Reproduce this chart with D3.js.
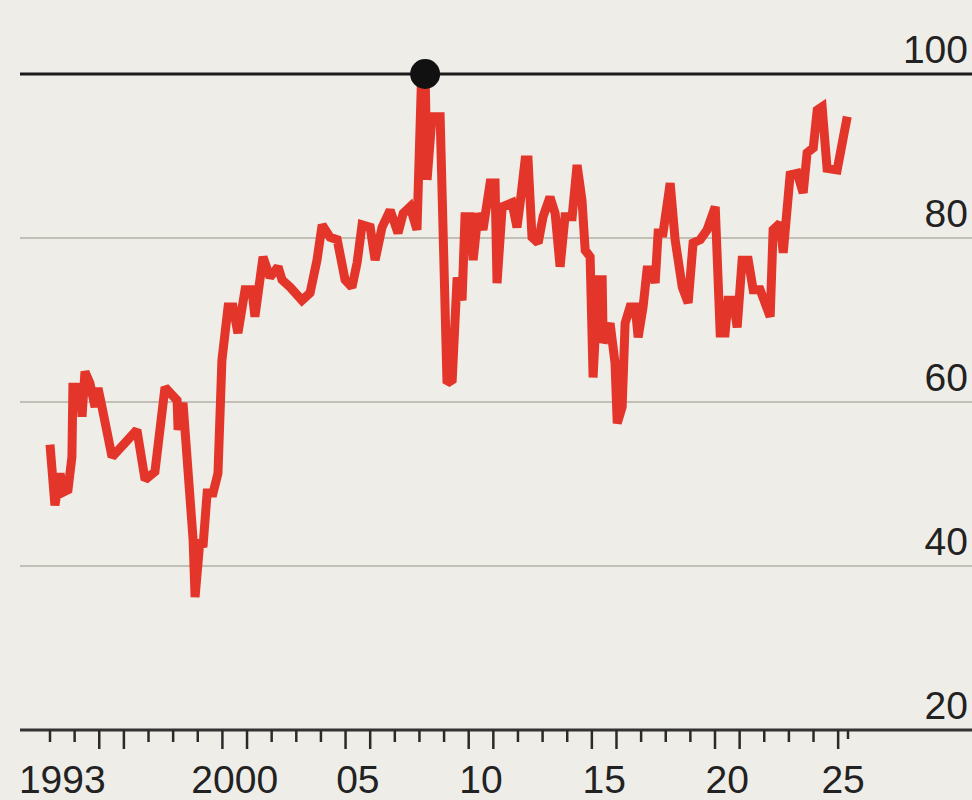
<!DOCTYPE html>
<html>
<head>
<meta charset="utf-8">
<script src="https://cdn.jsdelivr.net/npm/d3@7"></script>
<style>
  html, body { margin: 0; padding: 0; background: #eeede7; }
  svg { display: block; }
  text { font-family: "Liberation Sans", Arial, Helvetica, sans-serif; fill: #222; }
</style>
</head>
<body>
<svg id="chart" width="972" height="800"></svg>
<script>
// ---- data ----
const years = [
  1993.00, 1993.20, 1993.41, 1993.53, 1993.73, 1993.89, 1993.93, 1994.22, 1994.30, 1994.42,
  1994.62, 1994.83, 1994.95, 1995.11, 1995.52, 1996.53, 1996.86, 1997.26, 1997.67, 1998.16,
  1998.20, 1998.40, 1998.81, 1998.89, 1999.09, 1999.21, 1999.38, 1999.62, 1999.82, 1999.98,
  2000.23, 2000.43, 2000.63, 2000.92, 2001.20, 2001.32, 2001.65, 2001.93, 2002.26, 2002.42,
  2002.75, 2003.23, 2003.56, 2003.84, 2004.05, 2004.37, 2004.66, 2004.98, 2005.26, 2005.47,
  2005.67, 2006.00, 2006.20, 2006.48, 2006.81, 2007.13, 2007.34, 2007.62, 2007.90, 2008.08,
  2008.23, 2008.31, 2008.51, 2008.84, 2009.12, 2009.33, 2009.53, 2009.73, 2009.85, 2010.06,
  2010.18, 2010.38, 2010.58, 2010.87, 2011.07, 2011.15, 2011.36, 2011.76, 2011.96, 2012.09,
  2012.29, 2012.41, 2012.57, 2012.82, 2013.02, 2013.30, 2013.51, 2013.71, 2013.91, 2014.20,
  2014.40, 2014.60, 2014.73, 2014.93, 2015.05, 2015.25, 2015.42, 2015.46, 2015.74, 2015.94,
  2016.03, 2016.23, 2016.35, 2016.55, 2016.76, 2016.88, 2017.08, 2017.24, 2017.45, 2017.57,
  2017.69, 2017.89, 2018.18, 2018.38, 2018.67, 2018.91, 2019.11, 2019.40, 2019.68, 2020.01,
  2020.21, 2020.41, 2020.53, 2020.74, 2020.90, 2021.10, 2021.35, 2021.55, 2021.83, 2022.24,
  2022.36, 2022.64, 2022.77, 2023.05, 2023.34, 2023.58, 2023.74, 2023.99, 2024.15, 2024.35,
  2024.55, 2024.96, 2025.37
];
const values = [
  54.8, 47.4, 51.3, 49.0, 49.3, 53.3, 61.8, 61.8, 58.2, 63.7,
  62.3, 59.4, 61.7, 59.4, 53.3, 56.6, 50.5, 51.5, 61.8, 60.2,
  56.6, 59.9, 43.2, 36.2, 43.2, 42.3, 48.9, 48.9, 51.3, 65.1,
  71.6, 71.6, 68.4, 73.7, 73.7, 70.4, 77.7, 75.2, 76.5, 74.9,
  74.0, 72.4, 73.3, 77.3, 81.6, 80.1, 79.8, 74.9, 74.0, 77.0,
  81.6, 81.3, 77.3, 81.3, 83.4, 80.6, 83.0, 83.8, 81.0, 99.0,
  100.0, 87.1, 94.8, 94.8, 62.3, 62.7, 75.2, 72.4, 82.6, 82.6,
  77.3, 83.0, 81.0, 86.7, 86.7, 74.5, 83.8, 84.3, 81.3, 84.3,
  89.5, 89.5, 80.1, 79.4, 82.6, 85.0, 83.0, 76.5, 82.6, 82.6,
  88.9, 84.6, 78.5, 77.7, 63.0, 74.9, 74.9, 67.2, 69.6, 64.8,
  57.4, 59.4, 69.6, 71.6, 71.6, 67.9, 71.6, 76.1, 76.1, 74.5,
  80.6, 80.6, 86.7, 79.8, 74.0, 72.1, 79.4, 79.8, 81.0, 83.8,
  68.4, 68.4, 72.4, 72.4, 69.1, 77.3, 77.3, 73.7, 73.7, 70.4,
  81.0, 81.8, 78.2, 87.7, 87.9, 85.5, 90.4, 91.0, 95.6, 96.0,
  88.5, 88.3, 94.8
];
const peakYear = 2008.23;
const peakValue = 100;

const yTicks = [20, 40, 60, 80, 100];
const tickYears = d3.range(1993, 2026);          // one tick at each year start
const longTickYears = [1995, 1996, 2000, 2001, 2005, 2006, 2010, 2011, 2015, 2016, 2020, 2021, 2025];
const xLabelYears = [1993, 2000, 2005, 2010, 2015, 2020, 2025];
const xLabels = ["1993", "2000", "05", "10", "15", "20", "25"];
const xDomainEnd = 2025.4;

// ---- layout ----
const W = 972, H = 800;
const lineLeft = 20, lineRight = 972;
const svg = d3.select("#chart");
svg.append("rect").attr("width", W).attr("height", H).attr("fill", "#eeede7");

const x = d3.scaleLinear().domain([1993, xDomainEnd]).range([50, 848]);
const y = d3.scaleLinear().domain([20, 100]).range([730, 74]);

// gridlines
svg.append("g").selectAll("line")
  .data(yTicks.filter(v => v !== 20 && v !== 100))
  .join("line")
  .attr("x1", lineLeft).attr("x2", lineRight)
  .attr("y1", d => y(d)).attr("y2", d => y(d))
  .attr("stroke", "#c2bfb7").attr("stroke-width", 2);

// 100 reference line
svg.append("line")
  .attr("x1", lineLeft).attr("x2", lineRight)
  .attr("y1", y(100)).attr("y2", y(100))
  .attr("stroke", "#1a1a1a").attr("stroke-width", 3);

// y labels (right side, above line)
svg.append("g").selectAll("text")
  .data(yTicks)
  .join("text")
  .attr("x", 968)
  .attr("y", d => y(d) - 11)
  .attr("text-anchor", "end")
  .attr("font-size", 39)
  .text(d => d);

// x axis baseline
svg.append("line")
  .attr("x1", lineLeft).attr("x2", lineRight)
  .attr("y1", y(20)).attr("y2", y(20))
  .attr("stroke", "#333").attr("stroke-width", 3);

// x ticks
const tg = svg.append("g");
tg.selectAll("line.tick")
  .data(tickYears.concat([xDomainEnd]))
  .join("line")
  .attr("class", "tick")
  .attr("x1", d => x(d)).attr("x2", d => x(d))
  .attr("y1", y(20))
  .attr("y2", d => y(20) + (longTickYears.includes(d) ? 19 : (d === xDomainEnd ? 9 : 12)))
  .attr("stroke", "#2a2a2a").attr("stroke-width", 2.5);

// x labels, centred in their year
svg.append("g").selectAll("text")
  .data(xLabelYears.map((yr, i) => ({ yr, label: xLabels[i] })))
  .join("text")
  .attr("x", d => (x(d.yr) + x(Math.min(d.yr + 1, xDomainEnd))) / 2)
  .attr("y", 793)
  .attr("text-anchor", "middle")
  .attr("font-size", 39)
  .text(d => d.label);

// data line
const data = years.map((t, i) => ({ t, v: values[i] }));
svg.append("path")
  .datum(data)
  .attr("fill", "none")
  .attr("stroke", "#e4352a")
  .attr("stroke-width", 9)
  .attr("stroke-linejoin", "miter")
  .attr("stroke-miterlimit", 2)
  .attr("d", d3.line().x(d => x(d.t)).y(d => y(d.v)));

// peak marker
svg.append("circle")
  .attr("cx", x(peakYear)).attr("cy", y(peakValue))
  .attr("r", 15).attr("fill", "#111");
</script>
</body>
</html>
